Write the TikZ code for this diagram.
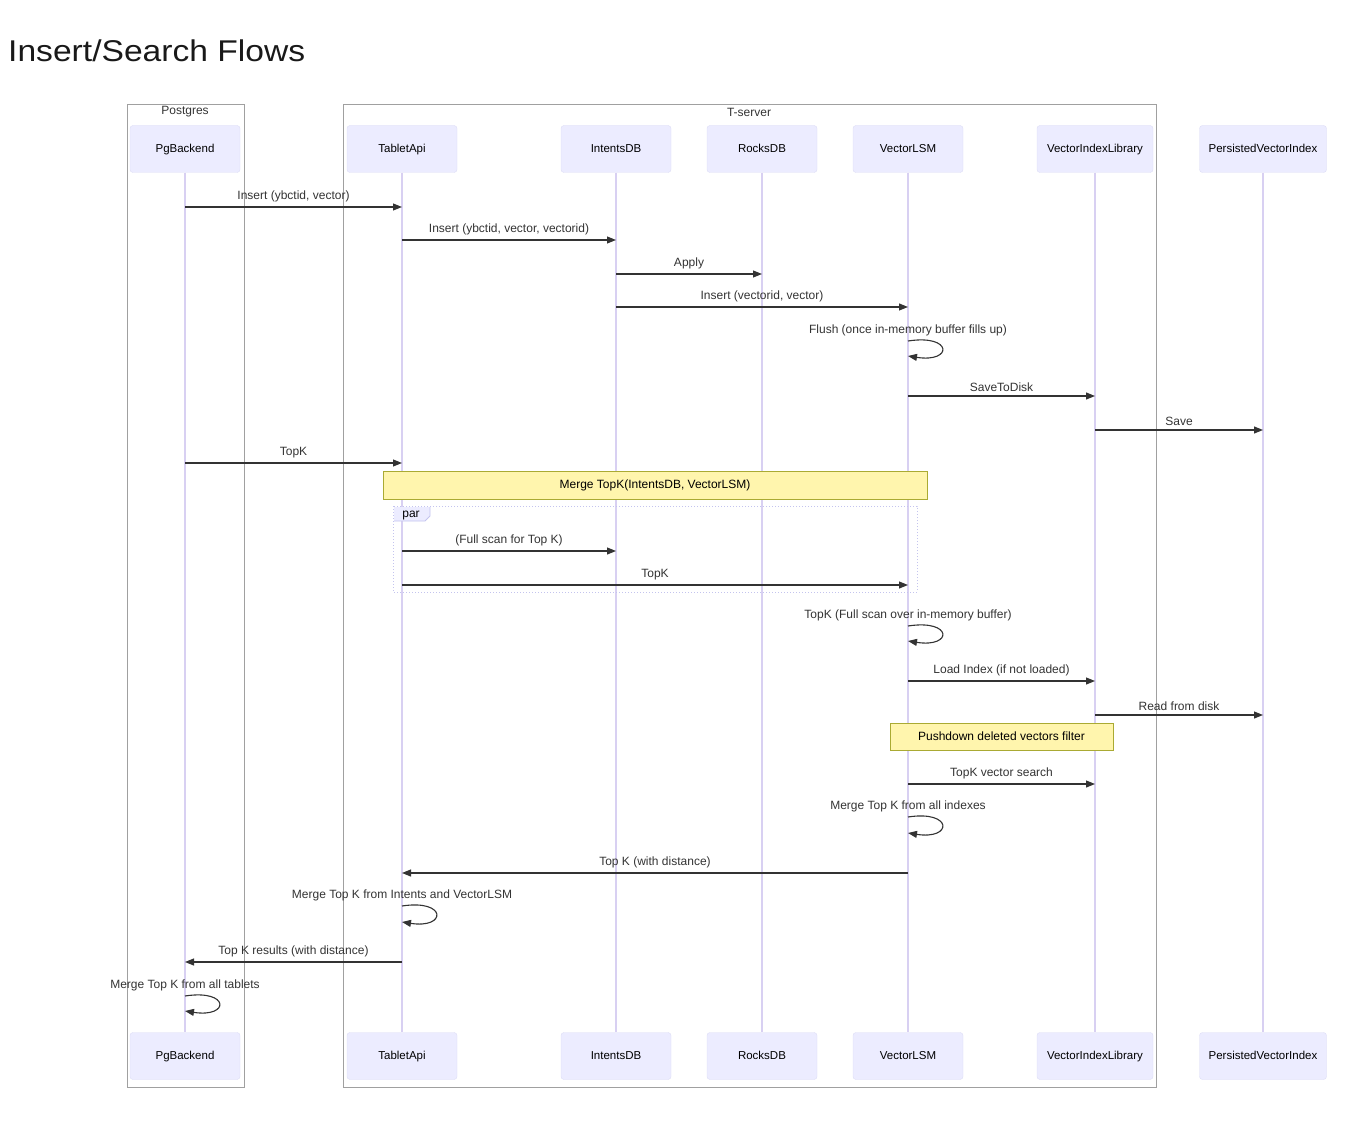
\documentclass[tikz,border=0pt]{standalone}
\usepackage{fontspec}
\setmainfont{Liberation Sans}
\usetikzlibrary{arrows.meta}

\definecolor{actorfill}{HTML}{ECECFF}
\definecolor{actorline}{HTML}{DCDCF5}
\definecolor{lifecol}{HTML}{D8D0F2}
\definecolor{notefill}{HTML}{FFF5AD}
\definecolor{noteline}{HTML}{AAAA33}
\definecolor{grpline}{HTML}{A0A0A0}
\definecolor{parline}{HTML}{C4C4EE}
\definecolor{ink}{HTML}{333333}

\tikzset{
    actor/.style={draw=actorline, fill=actorfill, rounded corners=3pt,
        minimum width=110pt, minimum height=47pt, text height=7pt, text depth=0pt,
        font=\fontsize{11.5}{13}\selectfont, text=black},
    lifeline/.style={draw=lifecol, line width=1.5pt},
    msg/.style={draw=ink, line width=1.1pt, -{Triangle[length=9pt,width=7pt]}},
    lbl/.style={font=\fontsize{12}{14}\selectfont, text=ink, inner sep=0pt},
    notebox/.style={draw=noteline, fill=notefill, line width=0.8pt,
        font=\fontsize{12}{14}\selectfont, text=black, inner sep=0pt},
    grp/.style={draw=grpline, line width=1pt},
}

\begin{document}
\begin{tikzpicture}[x=1pt, y=-1pt]
    \useasboundingbox (0,0) rectangle (1369,1126);

    % --- Title ---
    \node[anchor=base west, inner sep=0pt, xscale=1.12, font=\fontsize{30}{36}\selectfont, text=black!90]
        (title) at (8,62) {Insert/Search Flows};

    % --- Boxes (Postgres, T-server) ---
    \draw[grp] (127,105) rectangle (244,1087);
    \node[lbl] (pglabel) at (185,112) {Postgres};
    \draw[grp] (343,105) rectangle (1156,1087);
    \node[lbl] (tslabel) at (749,112) {T-server};

    % --- Participants (top and bottom) ---
    \node[actor] (pgT) at (185,149) {PgBackend};
    \node[actor] (pgB) at (185,1056) {PgBackend};
    \node[actor] (tabT) at (402,149) {TabletApi};
    \node[actor] (tabB) at (402,1056) {TabletApi};
    \node[actor] (intT) at (616,149) {IntentsDB};
    \node[actor] (intB) at (616,1056) {IntentsDB};
    \node[actor] (rocT) at (762,149) {RocksDB};
    \node[actor] (rocB) at (762,1056) {RocksDB};
    \node[actor] (vlT) at (908,149) {VectorLSM};
    \node[actor] (vlB) at (908,1056) {VectorLSM};
    \node[actor, minimum width=116pt] (vilT) at (1095,149) {VectorIndexLibrary};
    \node[actor, minimum width=116pt] (vilB) at (1095,1056) {VectorIndexLibrary};
    \node[actor, minimum width=127pt] (pviT) at (1263,149) {PersistedVectorIndex};
    \node[actor, minimum width=127pt] (pviB) at (1263,1056) {PersistedVectorIndex};

    % --- Lifelines ---
    \draw[lifeline] (pgT) -- (pgB);
    \draw[lifeline] (tabT) -- (tabB);
    \draw[lifeline] (intT) -- (intB);
    \draw[lifeline] (rocT) -- (rocB);
    \draw[lifeline] (vlT) -- (vlB);
    \draw[lifeline] (vilT) -- (vilB);
    \draw[lifeline] (pviT) -- (pviB);

    % --- Insert flow ---
    \draw[msg] (pgT |- 0,207) -- (tabT |- 0,207) node[lbl, midway, above=4pt] {Insert (ybctid, vector)};
    \draw[msg] (tabT |- 0,240) -- (intT |- 0,240) node[lbl, midway, above=4pt] {Insert (ybctid, vector, vectorid)};
    \draw[msg] (intT |- 0,274) -- (rocT |- 0,274) node[lbl, midway, above=4pt] {Apply};
    \draw[msg] (intT |- 0,307) -- (vlT |- 0,307) node[lbl, midway, above=4pt] {Insert (vectorid, vector)};
    \draw[msg] (vlT |- 0,341) node[lbl, above=4pt] {Flush (once in-memory buffer fills up)}
        .. controls +(45,-7) and +(45,7) .. (vlT |- 0,356);
    \draw[msg] (vlT |- 0,396) -- (vilT |- 0,396) node[lbl, midway, above=4pt] {SaveToDisk};
    \draw[msg] (vilT |- 0,430) -- (pviT |- 0,430) node[lbl, midway, above=4pt] {Save};

    % --- Search flow ---
    \draw[msg] (pgT |- 0,463) -- (tabT |- 0,463) node[lbl, midway, above=4pt] {TopK};
    \node[notebox, minimum width=544pt, minimum height=28pt] (mergenote) at (655,485) {Merge TopK(IntentsDB, VectorLSM)};

    % par block
    \draw[parline, dotted, line width=1pt] (393,506) rectangle (917,592);
    \fill[actorfill] (394,507) -- (430,507) -- (430,516) -- (425,521) -- (394,521) -- cycle;
    \draw[parline, line width=0.8pt] (430,507) -- (430,516) -- (425,521) -- (394,521);
    \node[lbl, text=black] (partab) at (411,516) {par};
    \draw[msg] (tabT |- 0,551) -- (intT |- 0,551) node[lbl, midway, above=4pt] {(Full scan for Top K)};
    \draw[msg] (tabT |- 0,585) -- (vlT |- 0,585) node[lbl, midway, above=4pt] {TopK};

    \draw[msg] (vlT |- 0,626) node[lbl, above=4pt] {TopK (Full scan over in-memory buffer)}
        .. controls +(45,-7) and +(45,7) .. (vlT |- 0,641);
    \draw[msg] (vlT |- 0,681) -- (vilT |- 0,681) node[lbl, midway, above=4pt] {Load Index (if not loaded)};
    \draw[msg] (vilT |- 0,715) -- (pviT |- 0,715) node[lbl, midway, above=4pt] {Read from disk};
    \node[notebox, minimum width=223pt, minimum height=27pt] (pushnote) at (1001.5,736.5) {Pushdown deleted vectors filter};
    \draw[msg] (vlT |- 0,784) -- (vilT |- 0,784) node[lbl, midway, above=4pt] {TopK vector search};
    \draw[msg] (vlT |- 0,817) node[lbl, above=4pt] {Merge Top K from all indexes}
        .. controls +(45,-7) and +(45,7) .. (vlT |- 0,833);

    % --- Results back ---
    \draw[msg] (vlT |- 0,873) -- (tabT |- 0,873) node[lbl, midway, above=4pt] {Top K (with distance)};
    \draw[msg] (tabT |- 0,906) node[lbl, above=4pt] {Merge Top K from Intents and VectorLSM}
        .. controls +(45,-7) and +(45,7) .. (tabT |- 0,922);
    \draw[msg] (tabT |- 0,962) -- (pgT |- 0,962) node[lbl, midway, above=4pt] {Top K results (with distance)};
    \draw[msg] (pgT |- 0,996) node[lbl, above=4pt] {Merge Top K from all tablets}
        .. controls +(45,-7) and +(45,7) .. (pgT |- 0,1011);
\end{tikzpicture}
\end{document}
